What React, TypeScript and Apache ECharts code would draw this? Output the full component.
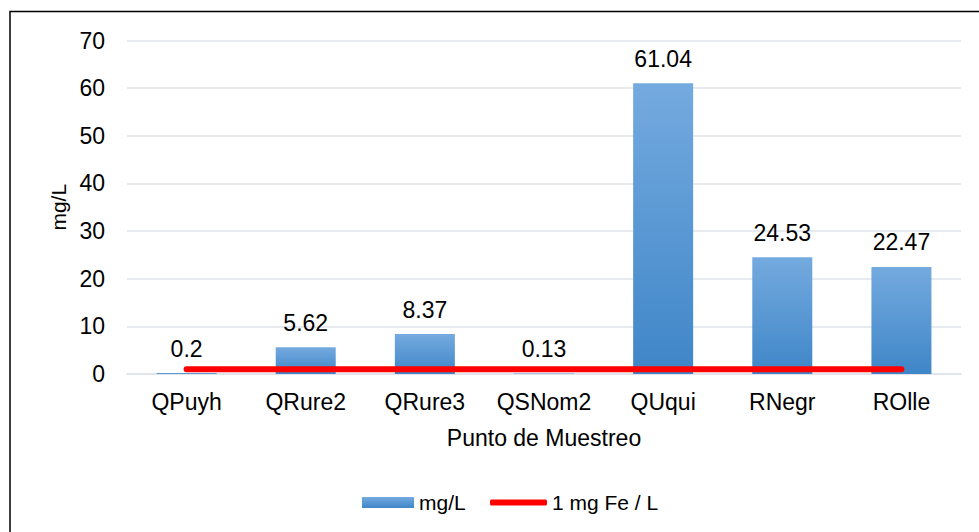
import React, { useEffect, useRef } from "react";
import * as echarts from "echarts";

const categories = ["QPuyh", "QRure2", "QRure3", "QSNom2", "QUqui", "RNegr", "ROlle"];
const concentration = [0.2, 5.62, 8.37, 0.13, 61.04, 24.53, 22.47];
const limitValues = [1, 1, 1, 1, 1, 1, 1];
const seriesNames = ["mg/L", "1 mg Fe / L"];
const yTicks = { min: 0, max: 70, interval: 10 };

const FONT = "'Liberation Sans', Arial, sans-serif";

export default function App() {
  const ref = useRef<HTMLDivElement>(null);
  useEffect(() => {
    const chart = echarts.init(ref.current!, null, { renderer: "svg" });
    const legendText = { fontSize: 21, fontFamily: FONT, color: "#000" };
    chart.setOption({
      animation: false,
      textStyle: { fontFamily: FONT, color: "#000" },
      graphic: [
        {
          type: "rect",
          shape: { x: 10, y: 11.5, width: 1100, height: 700 },
          style: { fill: "none", stroke: "#000", lineWidth: 1.5 },
          silent: true,
        },
      ],
      grid: { left: 127, right: 18, top: 40.5, bottom: 158 },
      legend: [
        {
          left: 357,
          top: 487,
          itemWidth: 52,
          itemHeight: 11,
          textStyle: legendText,
          data: [{ name: seriesNames[0], icon: "rect" }],
        },
        {
          left: 485,
          top: 487,
          itemWidth: 57,
          itemHeight: 6,
          textStyle: legendText,
          data: [{ name: seriesNames[1], icon: "roundRect", itemStyle: { color: "#ff0000" } }],
        },
      ],
      xAxis: {
        type: "category",
        data: categories,
        name: "Punto de Muestreo",
        nameLocation: "middle",
        nameGap: 52,
        nameTextStyle: { fontSize: 23, fontFamily: FONT, color: "#000" },
        axisTick: { show: false },
        axisLine: { lineStyle: { color: "#dfe3ea", width: 1.5 } },
        axisLabel: { interval: 0, fontSize: 23, fontFamily: FONT, color: "#000", margin: 16 },
      },
      yAxis: {
        type: "value",
        min: yTicks.min,
        max: yTicks.max,
        interval: yTicks.interval,
        name: "mg/L",
        nameLocation: "middle",
        nameGap: 58,
        nameTextStyle: { fontSize: 21, fontFamily: FONT, color: "#000" },
        axisLine: { show: false },
        axisTick: { show: false },
        axisLabel: { fontSize: 23, fontFamily: FONT, color: "#000", margin: 22 },
        splitLine: { lineStyle: { color: "#dfe3ea", width: 1.5 } },
      },
      series: [
        {
          name: seriesNames[0],
          type: "bar",
          data: concentration,
          barWidth: 60,
          itemStyle: {
            color: new echarts.graphic.LinearGradient(0, 0, 0, 1, [
              { offset: 0, color: "#74aadf" },
              { offset: 1, color: "#3f86c8" },
            ]),
          },
          label: {
            show: true,
            position: "top",
            distance: 13,
            fontSize: 23,
            fontFamily: FONT,
            color: "#000",
          },
        },
        {
          name: seriesNames[1],
          type: "line",
          data: limitValues,
          symbol: "none",
          z: 5,
          lineStyle: { color: "#ff0000", width: 6, cap: "round" },
          itemStyle: { color: "#ff0000" },
        },
      ],
    });
    return () => chart.dispose();
  }, []);
  return (
    <div
      ref={ref}
      style={{ position: "absolute", left: 0, top: 0, width: 979, height: 532, background: "#fff" }}
    />
  );
}
